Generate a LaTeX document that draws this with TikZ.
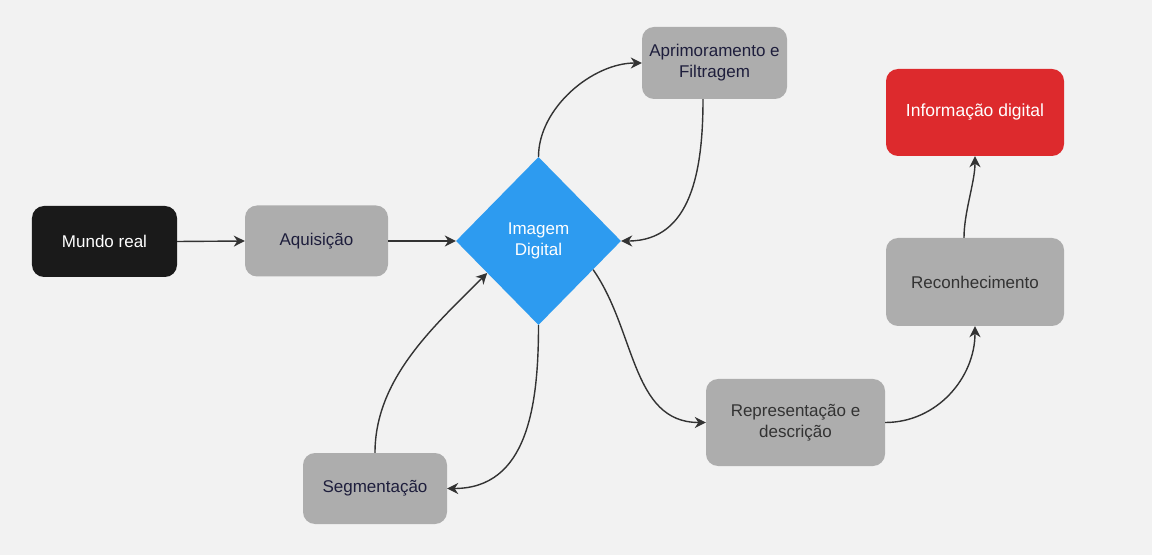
\documentclass[tikz,border=0pt]{standalone}
\usepackage{fontspec}
\setmainfont{Liberation Sans}
\usetikzlibrary{shapes.geometric,arrows.meta,calc}
\definecolor{bg}{HTML}{F2F2F2}
\definecolor{boxgray}{HTML}{ADADAD}
\definecolor{boxblack}{HTML}{1A1A1A}
\definecolor{diamblue}{HTML}{2D9BF0}
\definecolor{boxred}{HTML}{DD2A2D}
\definecolor{navytext}{HTML}{1E1E3C}
\definecolor{graytext}{HTML}{333333}
\definecolor{edgecol}{HTML}{333333}
\tikzset{
  base/.style={rectangle, rounded corners=12bp, draw=none, align=center, inner sep=0pt,
    font=\fontsize{17bp}{21bp}\selectfont},
  graybox/.style={base, fill=boxgray},
  navy/.style={text=navytext},
  dgray/.style={text=graytext},
  blackbox/.style={base, fill=boxblack, text=white},
  redbox/.style={base, fill=boxred, text=white, font=\fontsize{17.5bp}{21bp}\selectfont},
  diam/.style={diamond, fill=diamblue, text=white, align=center, inner sep=0pt,
    minimum width=165bp, minimum height=168bp, font=\fontsize{17bp}{21bp}\selectfont},
  conn/.style={draw=edgecol, line width=1.4bp,
    -{Stealth[length=11bp,width=11bp,inset=3.5bp]}},
}
\begin{document}
\begin{tikzpicture}[x=1bp,y=-1bp]
\fill[bg] (0,0) rectangle (1152,555);
\useasboundingbox (0,0) rectangle (1152,555);

\node[blackbox, minimum width=145bp, minimum height=71bp] (mundo) at (104.5,241.5) {Mundo real};
\node[graybox, navy, minimum width=143bp, minimum height=71bp] (aquis) at (316.5,241) {Aquisição};
\node[diam] (img) at (538.5,241) {Imagem\\Digital};
\node[graybox, navy, minimum width=145bp, minimum height=72bp] (aprim) at (714.5,63) {Aprimoramento e\\Filtragem};
\node[graybox, navy, minimum width=144bp, minimum height=71bp] (segm) at (375,488.5) {Segmentação};
\node[graybox, dgray, minimum width=179bp, minimum height=87bp] (repr) at (795.5,422.5) {Representação e\\descrição};
\node[graybox, dgray, minimum width=178bp, minimum height=88bp] (recon) at (975,282) {Reconhecimento};
\node[redbox, minimum width=178bp, minimum height=87bp] (info) at (975,112.5) {Informação digital};

\coordinate (aprimout) at ($(aprim.south)+(-11.5,0)$);
\coordinate (imgll) at ($(img.west)!0.38!(img.south)$);
\coordinate (imglr) at ($(img.east)!0.34!(img.south)$);
\coordinate (reconout) at ($(recon.north)+(-11,0)$);

\draw[conn] (mundo.east) -- (aquis.west);
\draw[conn] (aquis.east) -- (img.west);
\draw[conn] (img.north) to[out=90,in=180,looseness=0.9] (aprim.west);
\draw[conn] (aprimout) to[out=-90,in=0,looseness=1.1] (img.east);
\draw[conn] (img.south) to[out=-90,in=0,looseness=1.1] (segm.east);
\draw[conn] (segm.north) to[out=90,in=-135,looseness=0.9] (imgll);
\draw[conn] (imglr) to[out=-55,in=180,looseness=1.0] (repr.west);
\draw[conn] (repr.east) to[out=0,in=-90,looseness=1.0] (recon.south);
\draw[conn] (reconout) to[out=90,in=-90,looseness=0.8] (info.south);
\end{tikzpicture}
\end{document}
